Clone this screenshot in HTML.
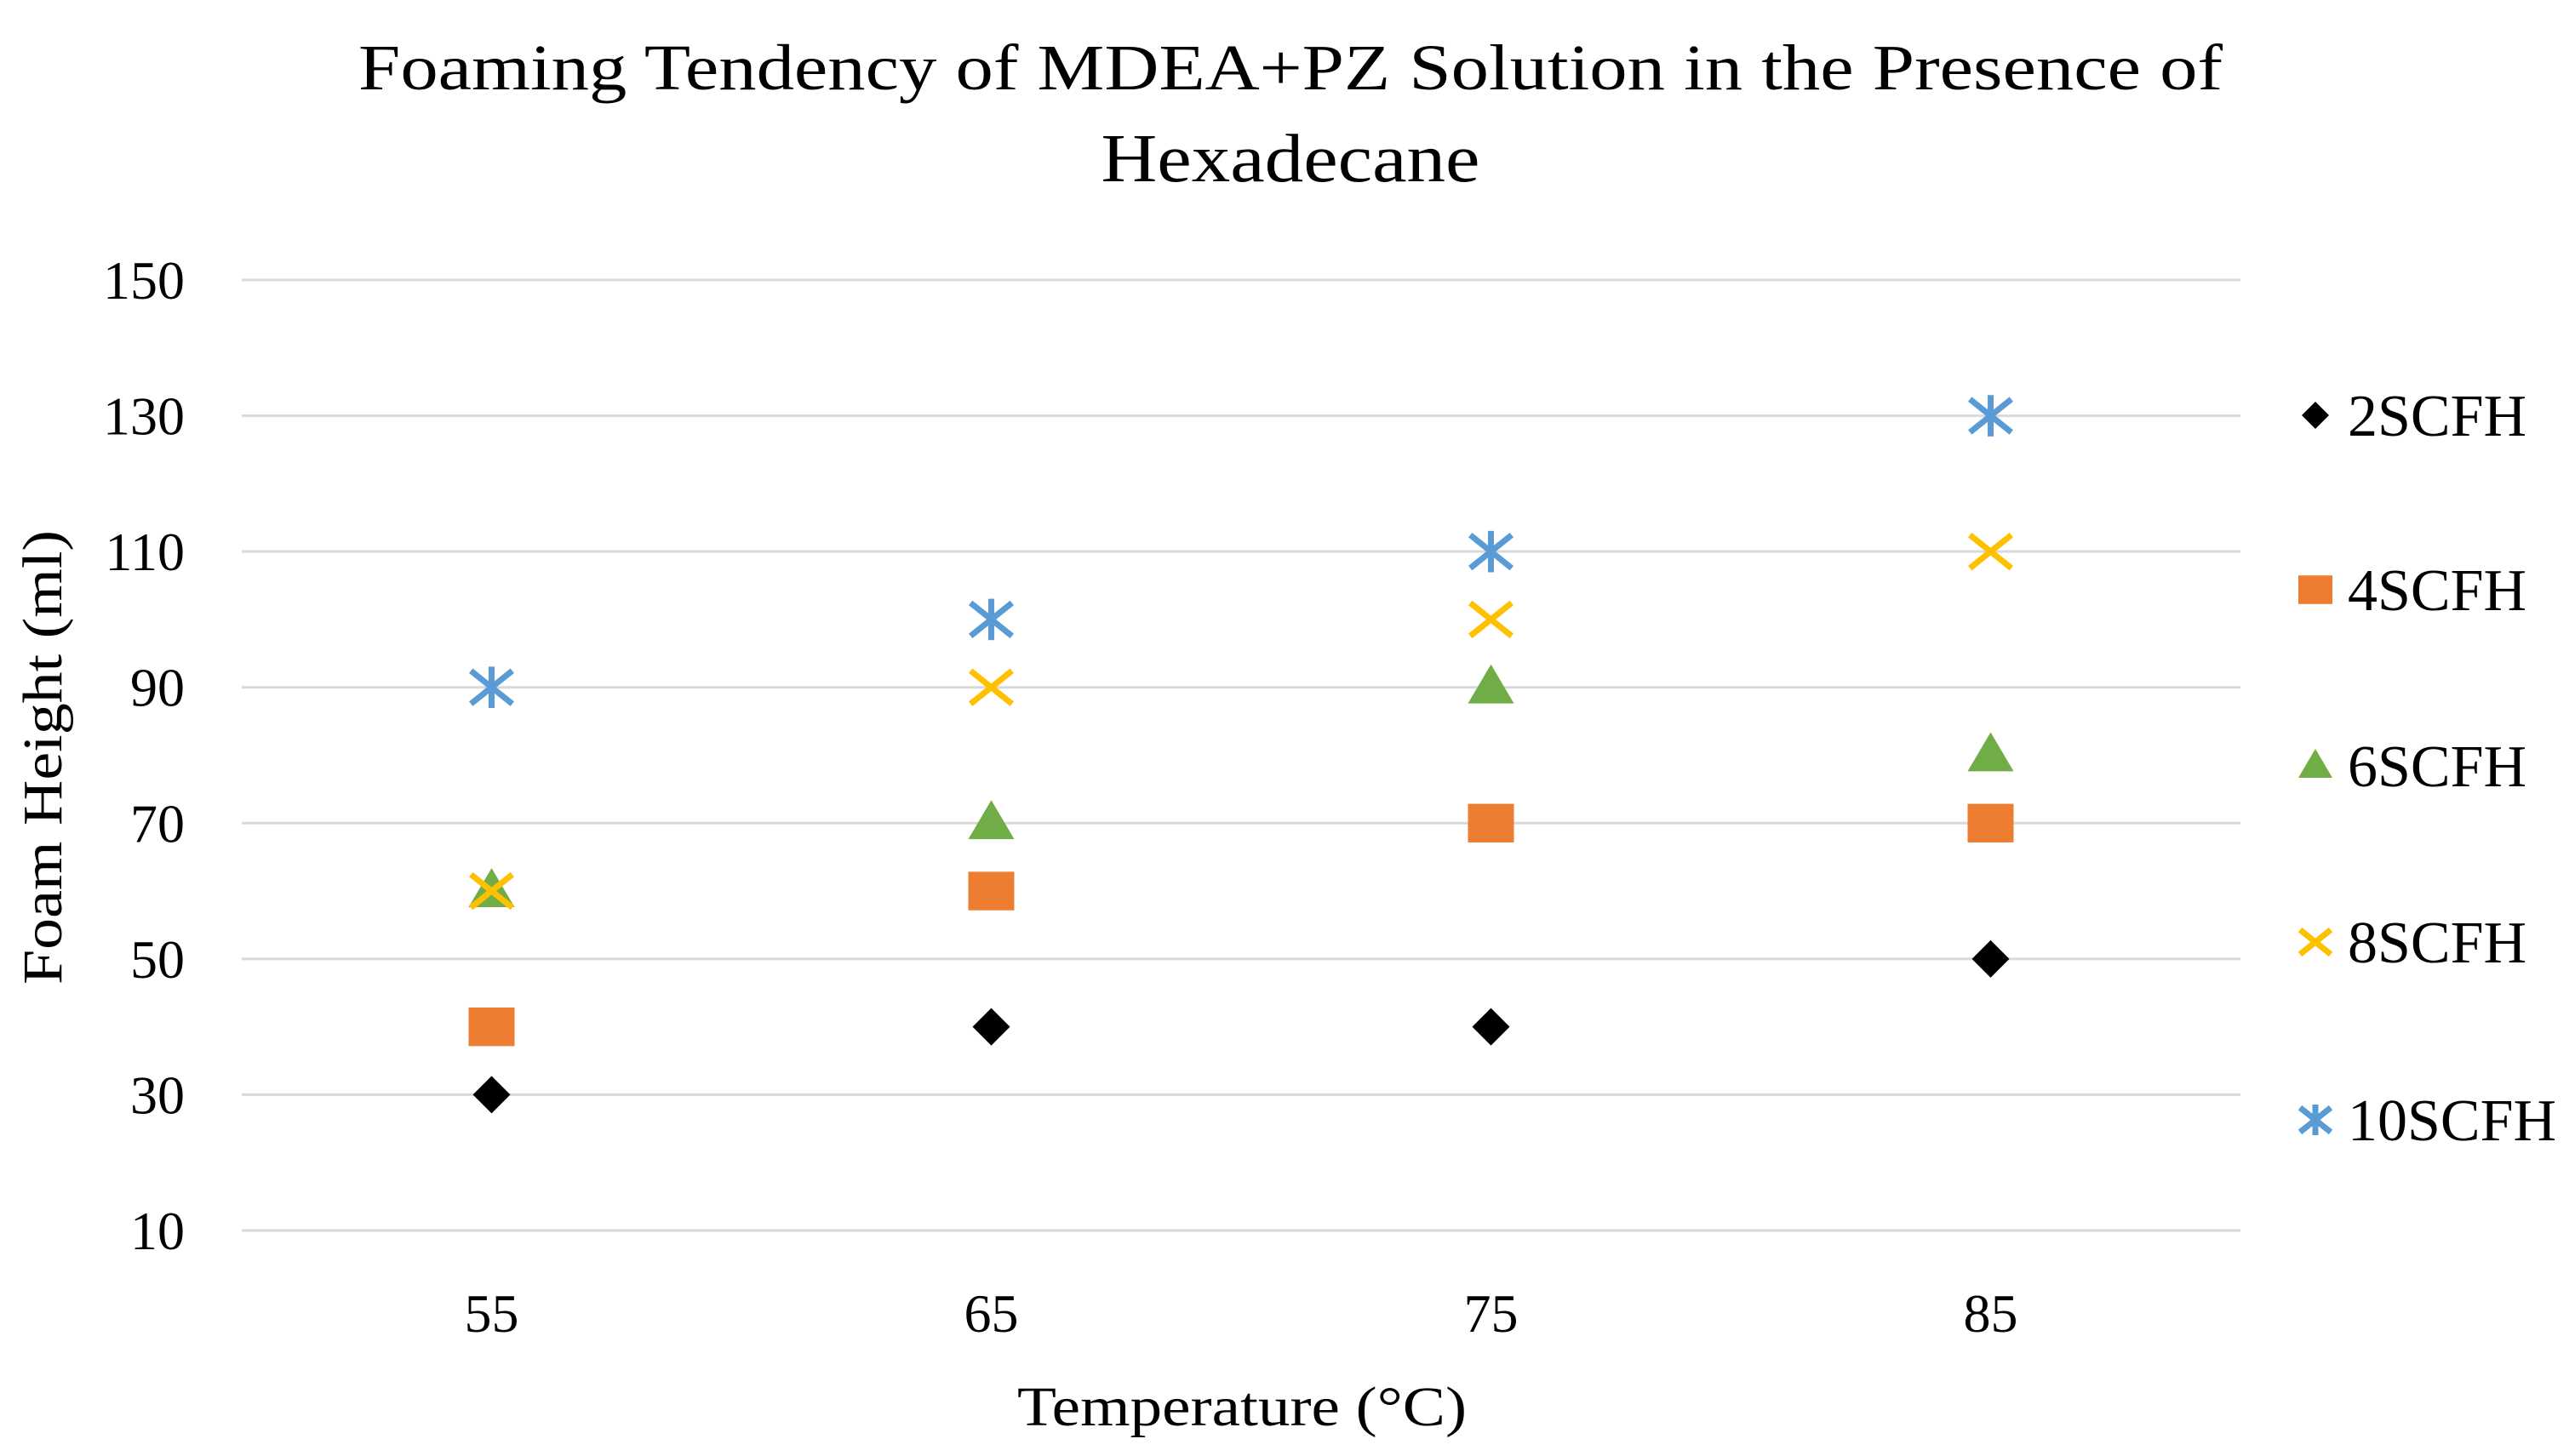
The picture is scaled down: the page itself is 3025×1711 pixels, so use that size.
<!DOCTYPE html>
<html><head><meta charset="utf-8"><style>
html,body{margin:0;padding:0;background:#fff}
svg{display:block;font-family:"Liberation Serif",serif}
</style></head><body>
<svg id="chart" width="3025" height="1711" viewBox="0 0 3025 1711" xmlns="http://www.w3.org/2000/svg">
<rect width="3025" height="1711" fill="#fff"/>
<text x="1516" y="105" font-size="76" text-anchor="middle" textLength="2190" lengthAdjust="spacingAndGlyphs">Foaming Tendency of MDEA+PZ Solution in the Presence of</text>
<text x="1516" y="213" font-size="80" text-anchor="middle" textLength="445" lengthAdjust="spacingAndGlyphs">Hexadecane</text>
<g id="grid"></g><g id="yticks"></g><g id="xticks"></g><g id="marks"></g><g id="legend"></g>
<text x="1459" y="1675" font-size="66" text-anchor="middle" textLength="528" lengthAdjust="spacingAndGlyphs">Temperature (°C)</text>
<text transform="translate(72,890) rotate(-90)" font-size="66" text-anchor="middle" textLength="534" lengthAdjust="spacingAndGlyphs">Foam Height (ml)</text>
</svg>
<script>
const categories = ["55","65","75","85"];
const yTicks = [10,30,50,70,90,110,130,150];
const seriesNames = ["2SCFH","4SCFH","6SCFH","8SCFH","10SCFH"];
const s2 = [30,40,40,50];
const s4 = [40,60,70,70];
const s6 = [60,70,90,80];
const s8 = [60,90,100,110];
const s10 = [90,100,110,130];

const NS="http://www.w3.org/2000/svg";
const L=284,R=2632,T=329,B=1446,ymin=10,ymax=150;
function yS(v){return B-(v-ymin)/(ymax-ymin)*(B-T);}
function xS(i){const bw=(R-L)/categories.length;return L+bw*(i+0.5);}
function mk(tag,attrs,parent){const e=document.createElementNS(NS,tag);for(const k in attrs)e.setAttribute(k,attrs[k]);parent.appendChild(e);return e;}
const grid=document.getElementById('grid'),yt=document.getElementById('yticks'),xt=document.getElementById('xticks'),marks=document.getElementById('marks'),leg=document.getElementById('legend');
yTicks.forEach(v=>{
  const l=mk('line',{x1:L,x2:R,y1:yS(v),y2:yS(v),stroke:'#d9d9d9','stroke-width':3},grid);
  
  
  const t=mk('text',{x:217,y:yS(v)+22,'font-size':64,'text-anchor':'end'},yt);
  t.textContent=v;
  
  
});
categories.forEach((c,i)=>{
  const t=mk('text',{x:xS(i),y:1565,'font-size':64,'text-anchor':'middle'},xt);
  t.textContent=c;
  
  
});
function marker(type,x,y,s,parent){
  const g=mk('g',{},parent);
  if(type===0){mk('polygon',{points:`${x},${y-s*0.5} ${x+s*0.5},${y} ${x},${y+s*0.5} ${x-s*0.5},${y}`,fill:'#000'},g);}
  else if(type===1){mk('rect',{x:x-s*0.5,y:y-s*0.42,width:s,height:s*0.84,fill:'#ED7D31'},g);}
  else if(type===2){mk('polygon',{points:`${x},${y-s*0.5} ${x+s*0.5},${y+s*0.35} ${x-s*0.5},${y+s*0.35}`,fill:'#70AD47'},g);}
  else if(type===3){const h=s*0.45;mk('path',{d:`M${x-h},${y-h*0.8}L${x+h},${y+h*0.8}M${x+h},${y-h*0.8}L${x-h},${y+h*0.8}`,stroke:'#FFC000','stroke-width':7,fill:'none'},g);}
  else {const h=s*0.45;mk('path',{d:`M${x-h},${y-h*0.8}L${x+h},${y+h*0.8}M${x+h},${y-h*0.8}L${x-h},${y+h*0.8}M${x},${y-h}L${x},${y+h}`,stroke:'#5B9BD5','stroke-width':7,fill:'none'},g);}
  return g;
}
const allSeries=[s2,s4,s6,s8,s10];
allSeries.forEach((arr,si)=>{
  arr.forEach((v,i)=>{
    const g=marker(si,xS(i),yS(v),si===0?44:54,marks);
    
    
  });
});
const legY=[488,693,900,1107,1316];
seriesNames.forEach((n,si)=>{
  const g=mk('g',{},leg);
  
  
  marker(si,2720,legY[si],si===0?32:40,g);
  const t=mk('text',{x:2758,y:legY[si]+24,'font-size':70},g);
  t.textContent=n;
});
</script>
</body></html>
